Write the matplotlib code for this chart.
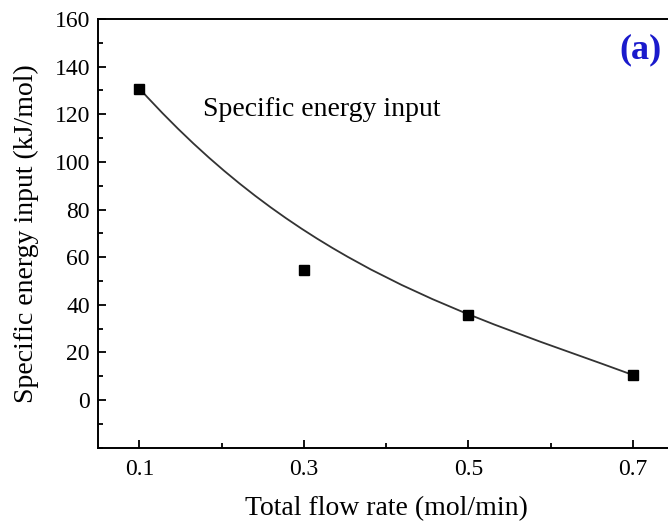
import matplotlib
matplotlib.use('Agg')
import matplotlib.pyplot as plt
from matplotlib.path import Path
from matplotlib.patches import PathPatch
from matplotlib.ticker import MultipleLocator

# measured values
flow_rate = [0.1, 0.3, 0.5, 0.7]
energy_input = [130.8, 54.4, 35.9, 10.5]
x_ticklabels = ['0.1', '0.3', '0.5', '0.7']

plt.rcParams['font.family'] = ['Liberation Serif', 'DejaVu Serif']

fig = plt.figure(figsize=(6.68, 5.26), dpi=100)
# right spine sits just outside the picture, as in the cropped original
ax = fig.add_axes([0.1472, 0.1489, 0.862, 0.815])
ax.spines['right'].set_visible(False)

# Origin style B-spline: cubic bezier with the points as control points
verts = list(zip(flow_rate, energy_input))
codes = [Path.MOVETO, Path.CURVE4, Path.CURVE4, Path.CURVE4]
curve = PathPatch(Path(verts, codes), facecolor='none', edgecolor='#333333', lw=1.3)
ax.add_patch(curve)
ax.plot(flow_rate, energy_input, linestyle='none', marker='s', markersize=7,
        color='black')

ax.set_xlim(0.05, 0.75)
ax.set_ylim(-20, 160)
ax.set_xticks(flow_rate)
ax.set_xticklabels(x_ticklabels)
ax.xaxis.set_minor_locator(MultipleLocator(0.1))
ax.set_yticks(range(0, 161, 20))
ax.yaxis.set_minor_locator(MultipleLocator(10))
ax.tick_params(which='both', direction='in', labelsize=17, width=1.3)
ax.tick_params(which='major', length=6)
ax.tick_params(which='minor', length=3.5)
ax.tick_params(axis='x', pad=8)
ax.tick_params(axis='y', pad=6)
for s in ax.spines.values():
    s.set_linewidth(1.4)

ax.set_xlabel('Total flow rate (mol/min)', fontsize=20, labelpad=12)
ax.set_ylabel('Specific energy input (kJ/mol)', fontsize=20, labelpad=11)

ax.text(0.182, 0.79, 'Specific energy input', transform=ax.transAxes,
        fontsize=20, ha='left', va='center')
fig.text(0.991, 0.905, '(a)', color='#1a1acc', fontsize=26, fontweight='bold',
         ha='right', va='center')

fig.savefig('out.png', dpi=100)
